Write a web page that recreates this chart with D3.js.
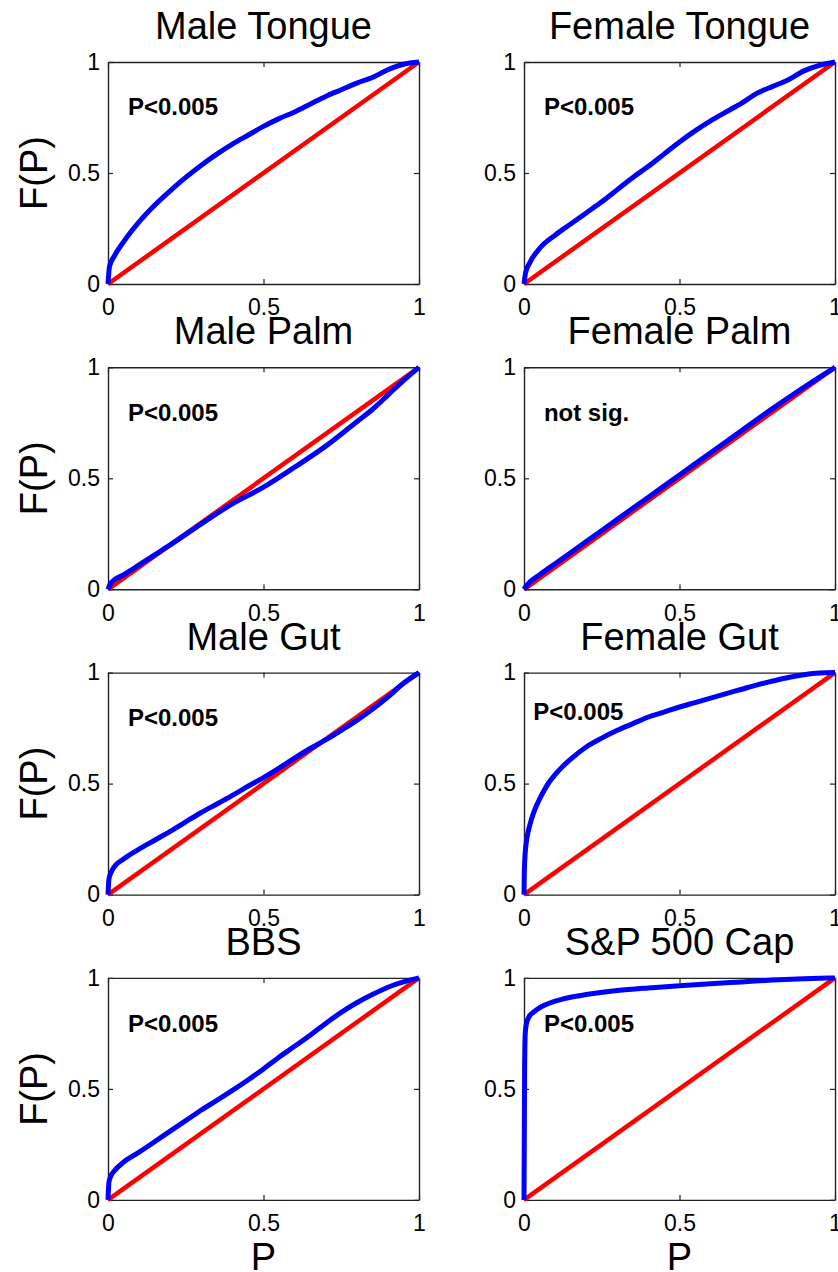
<!DOCTYPE html>
<html>
<head>
<meta charset="utf-8">
<script src="https://cdn.jsdelivr.net/npm/d3@7"></script>
<style>
    body { margin: 0; background: #fff; overflow: hidden; }
    text { font-family: "Liberation Sans", Arial, sans-serif; fill: #000; }
    .domain { stroke: #222; stroke-width: 1.4; }
    .tick line { stroke: #222; stroke-width: 1.2; }
</style>
</head>
<body>
<svg id="chart"></svg>
<script>
const width = 838;
const height = 1272;

// panel titles and annotation text, left-to-right, top-to-bottom
const titles = ['Male Tongue', 'Female Tongue', 'Male Palm', 'Female Palm',
    'Male Gut', 'Female Gut', 'BBS', 'S&P 500 Cap'];
const notes = ['P<0.005', 'P<0.005', 'P<0.005', 'not sig.',
    'P<0.005', 'P<0.005', 'P<0.005', 'P<0.005'];
// where the annotation sits, in data units (P, F)
const noteP = [0.064, 0.064, 0.064, 0.064, 0.064, 0.03, 0.064, 0.064];
const noteF = [0.76, 0.76, 0.76, 0.76, 0.76, 0.787, 0.756, 0.756];

const tickValues = [0, 0.5, 1];
const tickLabels = ['0', '0.5', '1'];
const diagonal = [0, 1];

// blue curves
const maleTongueP = [0, 0.005, 0.02, 0.05, 0.1, 0.15, 0.2, 0.25, 0.3, 0.35, 0.4, 0.45, 0.5, 0.55, 0.6, 0.65, 0.7, 0.75, 0.8, 0.85, 0.9, 0.95, 1];
const maleTongueF = [0, 0.08, 0.125, 0.19, 0.28, 0.355, 0.42, 0.48, 0.535, 0.585, 0.63, 0.67, 0.71, 0.745, 0.775, 0.81, 0.845, 0.875, 0.905, 0.93, 0.965, 0.99, 1];

const femaleTongueP = [0, 0.005, 0.02, 0.05, 0.1, 0.15, 0.2, 0.25, 0.3, 0.35, 0.4, 0.45, 0.5, 0.55, 0.6, 0.65, 0.7, 0.75, 0.8, 0.85, 0.9, 0.95, 1];
const femaleTongueF = [0, 0.05, 0.1, 0.16, 0.22, 0.27, 0.32, 0.37, 0.425, 0.48, 0.53, 0.585, 0.64, 0.69, 0.735, 0.775, 0.815, 0.86, 0.89, 0.92, 0.96, 0.985, 1];

const malePalmP = [0, 0.01, 0.05, 0.1, 0.15, 0.2, 0.3, 0.4, 0.5, 0.6, 0.7, 0.8, 0.85, 0.9, 0.95, 1];
const malePalmF = [0, 0.03, 0.065, 0.11, 0.155, 0.2, 0.295, 0.385, 0.46, 0.55, 0.645, 0.755, 0.81, 0.875, 0.94, 1];

const femalePalmP = [0, 0.01, 0.05, 0.1, 0.2, 0.3, 0.4, 0.5, 0.6, 0.7, 0.8, 0.9, 1];
const femalePalmF = [0, 0.02, 0.065, 0.115, 0.215, 0.315, 0.415, 0.515, 0.615, 0.715, 0.815, 0.91, 1];

const maleGutP = [0, 0.003, 0.01, 0.02, 0.05, 0.1, 0.15, 0.2, 0.25, 0.3, 0.35, 0.4, 0.45, 0.5, 0.55, 0.6, 0.65, 0.7, 0.75, 0.8, 0.85, 0.9, 0.95, 1];
const maleGutF = [0, 0.07, 0.1, 0.125, 0.16, 0.205, 0.245, 0.285, 0.328, 0.37, 0.408, 0.447, 0.488, 0.527, 0.57, 0.615, 0.658, 0.697, 0.74, 0.785, 0.835, 0.89, 0.952, 1];

const femaleGutP = [0, 0.001, 0.003, 0.006, 0.01, 0.02, 0.03, 0.04, 0.05, 0.065, 0.08, 0.1, 0.125, 0.15, 0.2, 0.25, 0.3, 0.35, 0.4, 0.45, 0.5, 0.55, 0.6, 0.65, 0.7, 0.75, 0.8, 0.85, 0.9, 0.95, 1];
const femaleGutF = [0, 0.1, 0.17, 0.22, 0.26, 0.32, 0.365, 0.4, 0.43, 0.47, 0.505, 0.54, 0.578, 0.61, 0.665, 0.705, 0.74, 0.77, 0.8, 0.822, 0.845, 0.865, 0.885, 0.905, 0.925, 0.945, 0.962, 0.978, 0.99, 0.998, 1];

const bbsP = [0, 0.003, 0.01, 0.02, 0.05, 0.1, 0.15, 0.2, 0.25, 0.3, 0.35, 0.4, 0.45, 0.5, 0.55, 0.6, 0.65, 0.7, 0.75, 0.8, 0.85, 0.9, 0.95, 1];
const bbsF = [0, 0.08, 0.11, 0.13, 0.17, 0.215, 0.262, 0.31, 0.357, 0.405, 0.448, 0.493, 0.54, 0.59, 0.643, 0.692, 0.742, 0.795, 0.845, 0.888, 0.925, 0.958, 0.982, 1];

const spCapP = [0, 0.002, 0.004, 0.008, 0.015, 0.03, 0.05, 0.1, 0.15, 0.2, 0.3, 0.4, 0.5, 0.6, 0.7, 0.8, 0.9, 1];
const spCapF = [0, 0.6, 0.75, 0.795, 0.822, 0.845, 0.865, 0.895, 0.913, 0.925, 0.943, 0.955, 0.965, 0.974, 0.982, 0.99, 0.996, 1];

const curvesP = [maleTongueP, femaleTongueP, malePalmP, femalePalmP, maleGutP, femaleGutP, bbsP, spCapP];
const curvesF = [maleTongueF, femaleTongueF, malePalmF, femalePalmF, maleGutF, femaleGutF, bbsF, spCapF];

// layout
const colLeft = [108, 524];
const boxW = 311;
const boxH = 222;
const rowTop = i => 62 + i * 305.3;

const svg = d3.select('#chart')
    .attr('width', width)
    .attr('height', height);

const x = d3.scaleLinear().domain([0, 1]).range([0, boxW]);
const y = d3.scaleLinear().domain([0, 1]).range([boxH, 0]);

const line = d3.line()
    .x(d => x(d[0]))
    .y(d => y(d[1]))
    .curve(d3.curveMonotoneX);

titles.forEach((title, i) => {
    const col = i % 2;
    const row = Math.floor(i / 2);
    const g = svg.append('g')
        .attr('transform', `translate(${colLeft[col]}, ${rowTop(row)})`);

    // title
    g.append('text')
        .attr('x', boxW / 2)
        .attr('y', -23)
        .attr('text-anchor', 'middle')
        .style('font-size', '38px')
        .text(title);

    // axes, ticks pointing inward like matlab
    g.append('g')
        .attr('transform', `translate(0, ${boxH})`)
        .call(d3.axisBottom(x).tickValues(tickValues).tickSizeInner(-5).tickSizeOuter(0).tickPadding(15)
            .tickFormat((d, k) => tickLabels[k]));
    g.append('g')
        .call(d3.axisLeft(y).tickValues(tickValues).tickSizeInner(-5).tickSizeOuter(0).tickPadding(8)
            .tickFormat((d, k) => tickLabels[k]));
    g.append('g')
        .call(d3.axisTop(x).tickValues(tickValues).tickSizeInner(-5).tickSizeOuter(0).tickFormat(''));
    g.append('g')
        .attr('transform', `translate(${boxW}, 0)`)
        .call(d3.axisRight(y).tickValues(tickValues).tickSizeInner(-5).tickSizeOuter(0).tickFormat(''));

    g.selectAll('.tick text')
        .style('font-size', '23px')
        .style('font-family', '"Liberation Sans", Arial, sans-serif')
        .attr('fill', '#111');

    // reference diagonal
    g.append('path')
        .datum(diagonal.map(v => [v, v]))
        .attr('d', line)
        .attr('fill', 'none')
        .attr('stroke', '#ff0000')
        .attr('stroke-width', 4.5);

    // observed curve
    g.append('path')
        .datum(curvesP[i].map((p, k) => [p, curvesF[i][k]]))
        .attr('d', line)
        .attr('fill', 'none')
        .attr('stroke', '#0000ff')
        .attr('stroke-width', 5)
        .attr('stroke-linejoin', 'round');

    g.append('text')
        .attr('x', x(noteP[i]))
        .attr('y', y(noteF[i]))
        .style('font-size', '24px')
        .style('font-weight', 'bold')
        .text(notes[i]);

    if (col === 0) {
        g.append('text')
            .attr('transform', `translate(${47 - colLeft[0]}, ${boxH / 2}) rotate(-90)`)
            .attr('text-anchor', 'middle')
            .style('font-size', '38px')
            .text('F(P)');
    }
    if (row === 3) {
        g.append('text')
            .attr('x', boxW / 2)
            .attr('y', boxH + 70)
            .attr('text-anchor', 'middle')
            .style('font-size', '38px')
            .text('P');
    }
});
</script>
</body>
</html>
